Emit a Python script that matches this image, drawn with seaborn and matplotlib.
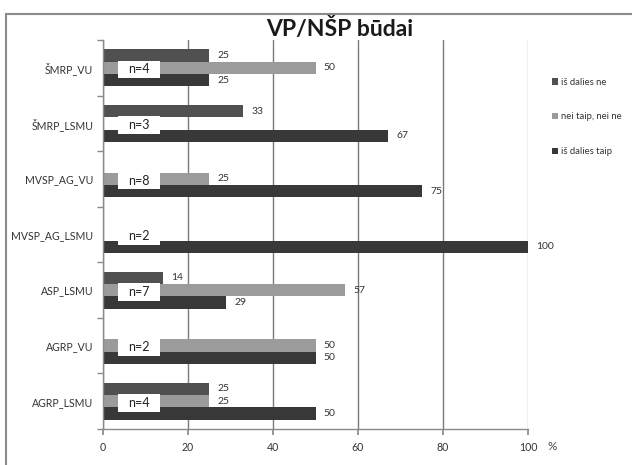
import matplotlib
matplotlib.use("Agg")
import matplotlib.pyplot as plt
import seaborn as sns
import pandas as pd
import numpy as np
from matplotlib.patches import Rectangle

categories = ["ŠMRP_VU", "ŠMRP_LSMU", "MVSP_AG_VU", "MVSP_AG_LSMU", "ASP_LSMU", "AGRP_VU", "AGRP_LSMU"]
series_names = ["iš dalies ne", "nei taip, nei ne", "iš dalies taip"]
dalies_ne = [25, 33, 0, 0, 14, 0, 25]
nei_nei = [50, 0, 25, 0, 57, 50, 25]
dalies_taip = [25, 67, 75, 100, 29, 50, 50]
n_labels = ["n=4", "n=3", "n=8", "n=2", "n=7", "n=2", "n=4"]
x_ticks = [0, 20, 40, 60, 80, 100]
colors = ["#505050", "#9b9b9b", "#383838"]

rows = []
for name, vals in zip(series_names, [dalies_ne, nei_nei, dalies_taip]):
    for c, v in zip(categories, vals):
        rows.append({"kat": c, "serija": name, "v": v})
df = pd.DataFrame(rows)

sns.set_theme(style="white")
plt.rcParams["font.family"] = ["Lato", "DejaVu Sans"]

fig = plt.figure(figsize=(6.32, 4.65), dpi=100)
ax = fig.add_axes([103/632, 1-429/465, 425/632, 389/465])
sns.barplot(data=df, y="kat", x="v", hue="serija", order=categories,
            hue_order=series_names, palette=colors, width=0.667, orient="h",
            ax=ax, saturation=1, errorbar=None, linewidth=0)

for cont in ax.containers:
    labs = [f"{w:.0f}" if w > 0 else "" for w in cont.datavalues]
    ax.bar_label(cont, labels=labs, padding=6, fontsize=7.5, color="#333333")

for i, lab in enumerate(n_labels):
    ax.add_patch(Rectangle((3.5, i + 0.03 - 0.16), 10, 0.32, fc="white", ec="none", zorder=4))
    ax.text(8.4, i + 0.03, lab, ha="center", va="center", fontsize=9, color="#222222", zorder=5)

ax.set_xlim(0, 100)
ax.set_ylim(len(categories) - 0.5, -0.5)
ax.set_xticks(x_ticks)
ax.set_xticklabels([str(t) for t in x_ticks])
ax.set_xlabel("")
ax.set_ylabel("")
ax.grid(axis="x", color="#7a7a7a", lw=1)
ax.get_xgridlines()[-1].set_color("#b0b0b0")
ax.set_axisbelow(True)

for s in ["top", "right"]:
    ax.spines[s].set_visible(False)
for s in ["left", "bottom"]:
    ax.spines[s].set_color("#8a8a8a")
    ax.spines[s].set_linewidth(1)

ax.set_yticks(np.arange(-0.5, len(categories), 1), minor=True)
ax.tick_params(axis="y", which="major", length=0, pad=7, labelsize=7.6, labelcolor="#333333")
ax.tick_params(axis="y", which="minor", length=4, direction="out", color="#8a8a8a", left=True)
ax.tick_params(axis="x", length=4, direction="out", color="#8a8a8a", bottom=True, pad=5,
               labelsize=7.6, labelcolor="#333333")

handles, labels = ax.get_legend_handles_labels()
if ax.legend_ is not None:
    ax.legend_.remove()
fig.legend(handles, labels, loc="upper left", bbox_to_anchor=(543/632, 1-69/465), frameon=False,
           fontsize=6.8, labelspacing=2.75, handlelength=0.7, handleheight=0.7, handletextpad=0.3,
           labelcolor="#333333")

fig.text(340/632, 1-29/465, "VP/NŠP būdai", ha="center", va="center", fontsize=16.5,
         fontweight="bold", color="#1a1a1a")
fig.text(552/632, 1-446/465, "%", ha="center", va="center", fontsize=8.5, color="#444444")

fig.patches.append(Rectangle((6/632, -0.5), 2, 0.5 + (1 - 14/465), transform=fig.transFigure,
                             fill=False, ec="#8a8a8a", lw=1.5))

fig.savefig("out.png", dpi=100)
